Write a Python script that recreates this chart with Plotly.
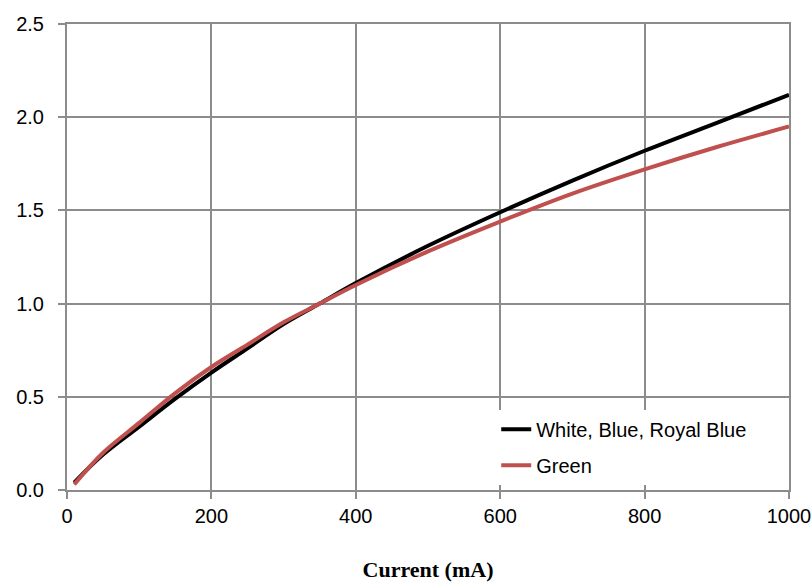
import plotly.graph_objects as go

current_ma = [10, 50, 100, 150, 200, 250, 300, 350, 400, 500, 600, 700, 800, 900, 1000]
white_blue = [0.04, 0.19, 0.34, 0.49, 0.63, 0.76, 0.89, 1.00, 1.11, 1.31, 1.49, 1.66, 1.82, 1.97, 2.12]
green = [0.03, 0.20, 0.36, 0.52, 0.66, 0.78, 0.90, 1.00, 1.10, 1.28, 1.44, 1.59, 1.72, 1.84, 1.95]

fig = go.Figure()
fig.add_trace(go.Scatter(x=current_ma, y=white_blue, mode="lines", name="White, Blue, Royal Blue",
                         line=dict(color="#000000", width=4, shape="spline"), legendgroup="a"))
fig.add_trace(go.Scatter(x=current_ma, y=green, mode="lines", name="Green",
                         line=dict(color="#C0504D", width=4, shape="spline"), legendgroup="b"))

grid = "#8c8c8c"
fig.update_layout(
    width=811, height=582,
    margin=dict(l=67, r=22, t=24, b=92, autoexpand=False),
    plot_bgcolor="white", paper_bgcolor="white",
    font=dict(family="Liberation Sans, Arial", size=20, color="#000000"),
    showlegend=True,
    legend=dict(x=0.5945, y=0.172, xanchor="left", yanchor="top", bgcolor="white",
                font=dict(size=20), tracegroupgap=7, traceorder="grouped"),
    xaxis=dict(range=[0, 1000], tickmode="array", tickvals=[0, 200, 400, 600, 800, 1000],
               ticklabeloverflow="allow", automargin=False,
               showgrid=True, gridcolor=grid, gridwidth=2, zeroline=False,
               showline=True, linecolor=grid, linewidth=2, mirror=True,
               ticks="outside", ticklen=7, tickcolor=grid, tickwidth=2,
               title=dict(text="<b>Current (mA)</b>", standoff=40,
                          font=dict(family="Liberation Serif, Times New Roman", size=22))),
    yaxis=dict(range=[0, 2.5], tickmode="linear", tick0=0, dtick=0.5, tickformat=".1f",
               ticklabeloverflow="allow", automargin=False,
               showgrid=True, gridcolor=grid, gridwidth=2, zeroline=False,
               showline=True, linecolor=grid, linewidth=2, mirror=True,
               ticks="outside", ticklen=7, tickcolor=grid, tickwidth=2,
               ticklabelstandoff=10),
)

fig.write_html("out.html", config={"displayModeBar": False},
               post_script="document.body.style.margin='0';document.body.style.padding='0';")
